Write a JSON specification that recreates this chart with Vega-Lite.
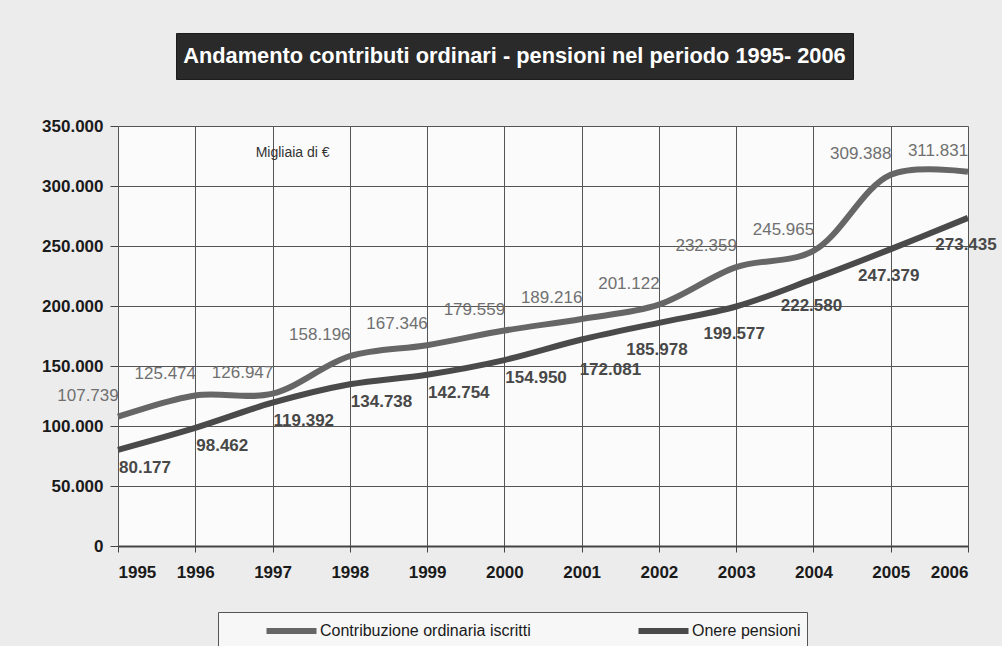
{
  "$schema": "https://vega.github.io/schema/vega-lite/v6.json",
  "background": "#ececec",
  "padding": {"left": 41, "top": 32, "right": 5, "bottom": 63},
  "spacing": 37,
  "bounds": "full",
  "config": {
    "locale": {"number": {"decimal": ",", "thousands": ".", "grouping": [3], "currency": ["€", ""]}},
    "font": "Liberation Sans"
  },
  "vconcat": [
    {
      "spacing": 0,
      "hconcat": [
        {
          "width": 57,
          "height": 46,
          "view": {"fill": null, "stroke": null},
          "data": {"values": []},
          "mark": {"type": "point", "opacity": 0}
        },
        {
          "width": 677,
          "height": 46,
          "view": {"fill": "#2a2a2a", "stroke": "#1c1c1c"},
          "data": {"values": [{"t": "Andamento contributi ordinari - pensioni nel periodo 1995- 2006"}]},
          "mark": {"type": "text", "color": "#ffffff", "fontSize": 21.8, "fontWeight": "bold", "font": "Liberation Sans"},
          "encoding": {"text": {"field": "t", "type": "nominal"}}
        }
      ]
    },
    {
      "width": 850,
      "height": 420,
      "view": {"fill": "#fbfbfb", "stroke": null},
      "data": {"values": [
        {"anno": 1995, "serie": "Contribuzione ordinaria iscritti", "valore": 107739},
        {"anno": 1996, "serie": "Contribuzione ordinaria iscritti", "valore": 125474},
        {"anno": 1997, "serie": "Contribuzione ordinaria iscritti", "valore": 126947},
        {"anno": 1998, "serie": "Contribuzione ordinaria iscritti", "valore": 158196},
        {"anno": 1999, "serie": "Contribuzione ordinaria iscritti", "valore": 167346},
        {"anno": 2000, "serie": "Contribuzione ordinaria iscritti", "valore": 179559},
        {"anno": 2001, "serie": "Contribuzione ordinaria iscritti", "valore": 189216},
        {"anno": 2002, "serie": "Contribuzione ordinaria iscritti", "valore": 201122},
        {"anno": 2003, "serie": "Contribuzione ordinaria iscritti", "valore": 232359},
        {"anno": 2004, "serie": "Contribuzione ordinaria iscritti", "valore": 245965},
        {"anno": 2005, "serie": "Contribuzione ordinaria iscritti", "valore": 309388},
        {"anno": 2006, "serie": "Contribuzione ordinaria iscritti", "valore": 311831},
        {"anno": 1995, "serie": "Onere pensioni", "valore": 80177},
        {"anno": 1996, "serie": "Onere pensioni", "valore": 98462},
        {"anno": 1997, "serie": "Onere pensioni", "valore": 119392},
        {"anno": 1998, "serie": "Onere pensioni", "valore": 134738},
        {"anno": 1999, "serie": "Onere pensioni", "valore": 142754},
        {"anno": 2000, "serie": "Onere pensioni", "valore": 154950},
        {"anno": 2001, "serie": "Onere pensioni", "valore": 172081},
        {"anno": 2002, "serie": "Onere pensioni", "valore": 185978},
        {"anno": 2003, "serie": "Onere pensioni", "valore": 199577},
        {"anno": 2004, "serie": "Onere pensioni", "valore": 222580},
        {"anno": 2005, "serie": "Onere pensioni", "valore": 247379},
        {"anno": 2006, "serie": "Onere pensioni", "valore": 273435}
      ]},
      "encoding": {
        "x": {
          "field": "anno", "type": "quantitative",
          "scale": {"domain": [1995, 2006], "nice": false, "zero": false},
          "axis": {
            "title": null, "values": [1995, 1996, 1997, 1998, 1999, 2000, 2001, 2002, 2003, 2004, 2005, 2006],
            "format": "d", "grid": true, "gridColor": "#555555", "gridWidth": 1, "gridOpacity": 1,
            "domainColor": "#444444", "domainWidth": 2,
            "tickColor": "#444444", "tickSize": 6, "labelPadding": 12,
            "labelFont": "Liberation Sans", "labelFontSize": 17, "labelFontWeight": "bold", "labelColor": "#1a1a1a"
          }
        },
        "y": {
          "field": "valore", "type": "quantitative",
          "scale": {"domain": [0, 350000], "nice": false},
          "axis": {
            "title": null, "values": [0, 50000, 100000, 150000, 200000, 250000, 300000, 350000],
            "format": ",d", "grid": true, "gridColor": "#555555", "gridWidth": 1, "gridOpacity": 1,
            "domain": false, "tickColor": "#444444", "tickSize": 8, "labelPadding": 7,
            "labelFont": "Liberation Sans", "labelFontSize": 17, "labelFontWeight": "bold", "labelColor": "#1a1a1a"
          }
        }
      },
      "layer": [
        {
          "mark": {"type": "line", "interpolate": "catmull-rom", "strokeWidth": 6},
          "encoding": {
            "color": {
              "field": "serie", "type": "nominal",
              "scale": {"domain": ["Contribuzione ordinaria iscritti", "Onere pensioni"], "range": ["#666666", "#4a4a4a"]},
              "legend": {
                "title": null, "orient": "none", "legendX": 100, "legendY": 579,
                "direction": "horizontal", "columns": 2, "columnPadding": 65,
                "symbolType": "M-2.5,0H2.5", "symbolSize": 400, "symbolStrokeWidth": 6, "symbolOffset": 54.5,
                "labelFont": "Liberation Sans", "labelFontSize": 16, "labelColor": "#1a1a1a", "labelOffset": 15.5, "labelLimit": 400,
                "fillColor": "#f7f7f7", "strokeColor": "#555555", "padding": 6, "cornerRadius": 0
              }
            }
          }
        },
        {
          "transform": [{"filter": "datum.serie == 'Contribuzione ordinaria iscritti'"}],
          "mark": {"type": "text", "dx": -30, "dy": -21, "fontSize": 17, "color": "#707070", "font": "Liberation Sans"},
          "encoding": {"text": {"field": "valore", "type": "quantitative", "format": ",d"}}
        },
        {
          "transform": [{"filter": "datum.serie == 'Onere pensioni' && datum.anno <= 2000"}],
          "mark": {"type": "text", "align": "left", "dx": 1, "dy": 18, "fontSize": 17, "fontWeight": "bold", "color": "#484848", "font": "Liberation Sans"},
          "encoding": {"text": {"field": "valore", "type": "quantitative", "format": ",d"}}
        },
        {
          "transform": [{"filter": "datum.serie == 'Onere pensioni' && datum.anno == 2001"}],
          "mark": {"type": "text", "align": "left", "dx": -2, "dy": 30, "fontSize": 17, "fontWeight": "bold", "color": "#484848", "font": "Liberation Sans"},
          "encoding": {"text": {"field": "valore", "type": "quantitative", "format": ",d"}}
        },
        {
          "transform": [{"filter": "datum.serie == 'Onere pensioni' && datum.anno >= 2002"}],
          "mark": {"type": "text", "align": "center", "dx": -2, "dy": 27, "fontSize": 17, "fontWeight": "bold", "color": "#484848", "font": "Liberation Sans"},
          "encoding": {"text": {"field": "valore", "type": "quantitative", "format": ",d"}}
        },
        {
          "data": {"values": [{"anno": 1997.26, "valore": 327500, "t": "Migliaia di €"}]},
          "mark": {"type": "text", "fontSize": 14, "color": "#333333", "font": "Liberation Sans"},
          "encoding": {"text": {"field": "t", "type": "nominal"}}
        }
      ]
    }
  ]
}
